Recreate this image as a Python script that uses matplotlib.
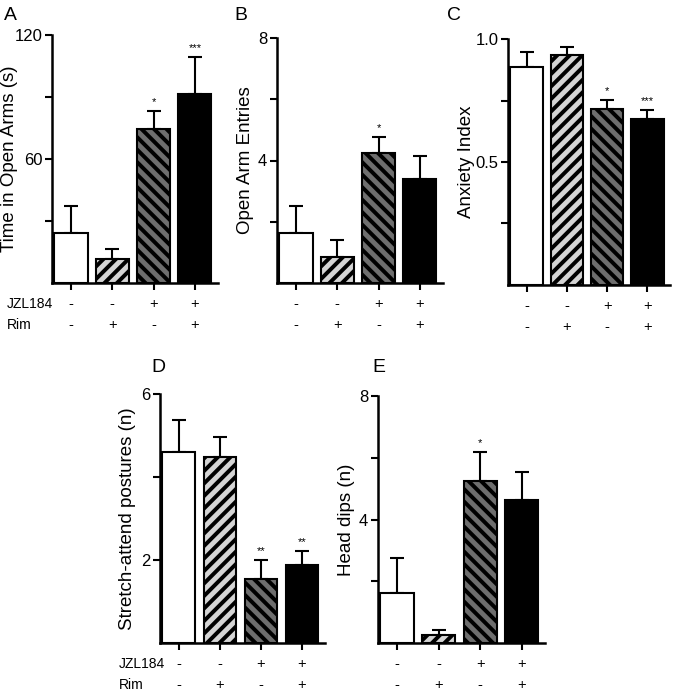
import matplotlib
matplotlib.use("Agg")
import matplotlib.pyplot as plt
from matplotlib.transforms import blended_transform_factory

# rendered at dpi 150 so the hatch spacing comes out like the original;
# k turns "100 dpi" sizes into the right point sizes
DPI = 150
k = 100 / DPI

plt.rcParams['font.family'] = ['Liberation Sans', 'DejaVu Sans']
plt.rcParams['hatch.linewidth'] = 1.9

# groups: JZL184 / Rim
jzl = ['-', '-', '+', '+']
rim = ['-', '+', '-', '+']

time_open = [24.2, 11.6, 74.5, 91.5]
time_open_err = [13.1, 4.9, 8.7, 17.9]
time_open_sig = ['', '', '*', '***']

entries = [1.63, 0.85, 4.24, 3.40]
entries_err = [0.88, 0.55, 0.53, 0.75]
entries_sig = ['', '', '*', '']

anxiety = [0.886, 0.935, 0.715, 0.675]
anxiety_err = [0.061, 0.032, 0.037, 0.036]
anxiety_sig = ['', '', '*', '***']

stretch = [4.60, 4.48, 1.54, 1.88]
stretch_err = [0.77, 0.48, 0.46, 0.34]
stretch_sig = ['', '', '**', '**']

head_dips = [1.62, 0.26, 5.25, 4.63]
head_dips_err = [1.13, 0.16, 0.94, 0.91]
head_dips_sig = ['', '', '*', '']

fills = ['white', '#d4d4d4', '#6e6e6e', 'black']
hatches = ['', '////', '\\\\\\\\', '']

W, H = 674, 693
fig = plt.figure(figsize=(W / DPI, H / DPI), dpi=DPI)


def panel(box, vals, errs, sigs, ylabel, label_x, ymax, yticks, ylabels, letter, row_names):
    x0, x1, ytop, ybot = box
    ax = fig.add_axes([x0 / W, 1 - ybot / H, (x1 - x0) / W, (ybot - ytop) / H])
    xs = range(len(vals))
    ax.bar(xs, vals, width=0.8, color=fills, edgecolor='black', linewidth=1.5 * k,
           hatch=hatches, zorder=2)
    ax.errorbar(xs, vals, yerr=[[0] * 4, errs], fmt='none', ecolor='black',
                elinewidth=1.5 * k, capsize=5 * k, capthick=1.5 * k, zorder=1)
    for x, v, e, s in zip(xs, vals, errs, sigs):
        if s:
            ax.text(x, v + e + ymax * 0.015, s, ha='center', va='bottom', fontsize=8 * k)
    ax.set_xlim(-0.46, 3.56)
    ax.set_ylim(0, ymax)
    ax.set_yticks(yticks)
    ax.set_yticklabels(ylabels, fontsize=12 * k)
    ax.set_xticks(list(xs))
    ax.set_xticklabels([])
    for side in ['top', 'right']:
        ax.spines[side].set_visible(False)
    for side in ['left', 'bottom']:
        ax.spines[side].set_linewidth(1.8 * k)
    ax.tick_params(width=1.5 * k, length=5 * k, pad=2 * k, direction='out')
    ax.set_ylabel(ylabel, fontsize=13.5 * k, va='center')
    ax.yaxis.set_label_coords((label_x - x0) / (x1 - x0), 0.5)
    tr = blended_transform_factory(ax.transData, ax.transAxes)
    for x, a, b in zip(xs, jzl, rim):
        ax.text(x, -0.085, a, transform=tr, ha='center', va='center', fontsize=10.5 * k)
        ax.text(x, -0.17, b, transform=tr, ha='center', va='center', fontsize=10.5 * k)
    if row_names is not None:
        ax.text(row_names, -0.085, 'JZL184', transform=ax.transAxes, ha='left',
                va='center', fontsize=10 * k)
        ax.text(row_names, -0.17, 'Rim', transform=ax.transAxes, ha='left',
                va='center', fontsize=10 * k)
    fig.text(letter[0] / W, 1 - letter[1] / H, letter[2], fontsize=14 * k,
             ha='left', va='center')
    return ax


panel((52, 218, 35, 283), time_open, time_open_err, time_open_sig,
      'Time in Open Arms (s)', 10, 120, [30, 60, 90, 120], ['', '60', '', '120'],
      (4, 15, 'A'), -0.27)
panel((277, 443, 38, 283), entries, entries_err, entries_sig,
      'Open Arm Entries', 245, 8, [2, 4, 6, 8], ['', '4', '', '8'],
      (234, 15, 'B'), None)
panel((508, 670, 39, 285), anxiety, anxiety_err, anxiety_sig,
      'Anxiety Index', 466, 1.0, [0.25, 0.5, 0.75, 1.0], ['', '0.5', '', '1.0'],
      (447, 15, 'C'), None)
panel((160, 325, 394, 643), stretch, stretch_err, stretch_sig,
      'Stretch-attend postures (n)', 127, 6, [2, 4, 6], ['2', '', '6'],
      (151, 367, 'D'), -0.25)
panel((378, 545, 396, 643), head_dips, head_dips_err, head_dips_sig,
      'Head dips (n)', 346, 8, [2, 4, 6, 8], ['', '4', '', '8'],
      (372, 367, 'E'), None)

fig.savefig('out.png', dpi=DPI)
